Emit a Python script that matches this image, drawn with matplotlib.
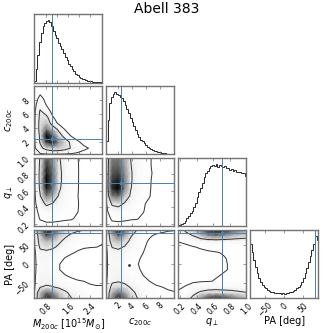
#!/usr/bin/env python
import numpy as np
import matplotlib
matplotlib.use("Agg")
import matplotlib.pyplot as plt
from matplotlib.colors import PowerNorm

plt.rcParams.update({'font.size': 5.5})
plt.rcParams.update({'axes.labelsize': 7})

# parameters
title = "Abell 383"
labels = [r"$M_{200c}$ [$10^{15}M_{\odot}$]", r"$c_{200c}$", r"$q_{\perp}$", "PA [deg]"]
ranges = [(0.35, 2.85), (0.3, 10.0), (0.17, 1.0), (-90.0, 90.0)]
truths = [1.0, 2.5, 0.70, 81.0]
major_ticks = [[0.8, 1.6, 2.4], [2, 4, 6, 8], [0.2, 0.4, 0.6, 0.8, 1.0], [-50, 0, 50]]
minor_ticks = [[1.2, 2.0], [], [], []]

# 1d marginals, 40 equal bins over each range (peak = 100)
hist_M = [3, 22, 44, 65, 80, 90, 96, 99, 100, 97, 90, 83, 77, 71, 63, 58,
          53, 47, 41, 36, 30, 26, 21, 18, 14, 12, 9.5, 8, 6, 5, 4, 3.2,
          2.5, 2, 1.6, 1.2, 1, 0.7, 0.5, 0.3]
hist_c = [22, 55, 82, 92, 97, 100, 97, 96, 93, 90, 86, 80, 73, 66, 59, 52,
          45, 39, 33, 28, 24, 21, 18, 15, 12.5, 10.5, 8.5, 7, 6, 5, 4.2, 3.4,
          2.8, 2.3, 1.9, 1.5, 1.2, 1, 0.8, 0.6]
hist_q = [1.5, 2.5, 4, 6, 9, 13, 17, 21, 25, 31, 38, 47, 55, 62, 70, 80,
          85, 89, 94, 97, 99, 97, 100, 96, 99, 97, 95, 97, 93, 94, 91, 92,
          89, 90, 88, 87, 88, 85, 86, 81]
hist_PA = [88, 74, 61, 50, 41, 33, 27, 22, 19, 16, 14, 12.5, 11, 10, 9, 8.5,
           8, 8.5, 7.5, 8, 7.5, 8, 9, 10, 11, 12, 14, 16, 19, 22, 27, 33,
           40, 49, 58, 68, 78, 88, 100, 94]
hists = [hist_M, hist_c, hist_q, hist_PA]

# 2d densities on regular grids spanning the ranges (rows: top -> bottom)
grid_n = [12, 12, 10, 13]
dens_M_c = [
    [0, 1, 0, 0, 0, 0, 0, 0, 0, 0, 0, 0],
    [0, 5, 2, 0, 0, 0, 0, 0, 0, 0, 0, 0],
    [1, 12, 4, 1, 0, 0, 0, 0, 0, 0, 0, 0],
    [1, 20, 7, 2, 0, 0, 0, 0, 0, 0, 0, 0],
    [0, 38, 15, 3, 1, 0, 0, 0, 0, 0, 0, 0],
    [1, 42, 42, 9, 2, 0, 0, 0, 0, 0, 0, 0],
    [1, 45, 60, 20, 4, 1, 0, 0, 0, 0, 0, 0],
    [2, 45, 80, 58, 28, 7, 1, 0, 0, 0, 0, 0],
    [3, 40, 100, 85, 50, 22, 6, 2, 0, 0, 0, 0],
    [3, 38, 90, 95, 70, 50, 28, 10, 4, 1, 0, 0],
    [2, 28, 45, 55, 52, 45, 33, 20, 11, 7, 2, 0],
    [0, 4, 6, 6, 6, 5, 4, 3, 2, 1, 0, 0],
]
dens_M_q = [
    [2, 38, 85, 70, 38, 22, 12, 8.5, 3, 1, 0, 0],
    [2, 40, 90, 75, 40, 24, 13, 9, 3, 1, 0, 0],
    [2, 42, 95, 80, 42, 25, 14, 9, 3, 1, 0, 0],
    [2, 42, 100, 82, 42, 25, 14, 9, 3, 1, 0, 0],
    [2, 40, 95, 80, 40, 22, 13, 9, 2, 1, 0, 0],
    [1, 34, 75, 62, 32, 18, 11, 8.5, 2, 0, 0, 0],
    [1, 24, 40, 34, 22, 16, 11, 9, 3, 0, 0, 0],
    [0, 14, 22, 20, 16, 13, 10, 8.5, 3, 0, 0, 0],
    [0, 9, 12, 12, 11, 10, 9, 6, 1, 0, 0, 0],
    [0, 2, 3, 3, 2, 1, 1, 0, 0, 0, 0, 0],
]
dens_c_q = [
    [5, 75, 78, 65, 34, 20, 12, 9, 5, 2, 1, 0],
    [5, 80, 82, 68, 36, 22, 13, 9, 5, 2, 1, 0],
    [6, 85, 88, 72, 38, 22, 13, 10, 5, 2, 1, 0],
    [6, 90, 95, 75, 38, 22, 13, 9, 5, 2, 1, 0],
    [6, 92, 100, 74, 36, 20, 12, 9, 4, 2, 1, 0],
    [5, 75, 80, 58, 30, 17, 11, 8.5, 3, 1, 0, 0],
    [4, 40, 45, 32, 20, 13, 9, 6, 2, 1, 0, 0],
    [3, 20, 22, 18, 13, 10, 8.5, 4, 1, 0, 0, 0],
    [2, 10, 11, 10, 9, 8.5, 6, 2, 1, 0, 0, 0],
    [1, 3, 3, 3, 2, 2, 1, 0, 0, 0, 0, 0],
]
dens_M_PA = [
    [5, 70, 100, 90, 70, 55, 45, 40, 36, 32, 20, 12],
    [4, 55, 85, 75, 55, 40, 30, 22, 17, 14, 12, 10],
    [3, 48, 60, 55, 40, 28, 19, 14, 12, 10, 9, 9],
    [3, 40, 45, 40, 30, 18, 12, 10, 9, 8.5, 8.2, 7],
    [2, 26, 28, 24, 15, 11, 9, 7, 5, 4, 3, 3],
    [2, 22, 24, 18, 11, 7.5, 5, 3, 2, 2, 1, 1],
    [2, 20, 22, 16, 8.5, 5, 3, 2, 1, 1, 0, 0],
    [2, 21, 23, 17, 8.5, 5, 3, 2, 1, 1, 0, 0],
    [2, 25, 28, 22, 13, 8.5, 6, 4, 3, 2, 2, 1],
    [3, 26, 28, 26, 18, 14, 11, 9, 8, 6, 5, 5],
    [3, 34, 38, 36, 30, 24, 17, 13, 11, 10, 9, 9],
    [4, 60, 80, 72, 55, 40, 28, 20, 16, 13, 11, 10],
    [5, 65, 95, 88, 65, 48, 36, 28, 22, 16, 12, 10],
]
dens_c_PA = [
    [6, 75, 100, 85, 55, 35, 22, 15, 11, 10, 9, 8.5],
    [5, 60, 80, 65, 38, 22, 13, 9, 7, 6, 5, 5],
    [4, 50, 60, 48, 28, 16, 10, 7, 5, 4, 4, 3],
    [4, 36, 40, 33, 22, 13, 9, 6, 4, 3, 3, 2],
    [3, 26, 28, 22, 16, 11, 8, 5, 3, 2, 2, 1],
    [3, 24, 26, 20, 13, 9, 7, 4, 2, 1, 1, 1],
    [3, 22, 24, 18, 11, 8.5, 6, 3, 2, 1, 1, 0],
    [3, 24, 26, 20, 13, 9, 7, 4, 2, 1, 1, 1],
    [3, 26, 28, 22, 15, 10, 8, 5, 3, 2, 1, 1],
    [4, 30, 33, 28, 18, 12, 10, 8, 6, 4, 3, 2],
    [4, 45, 52, 45, 32, 22, 15, 11, 9, 8, 7, 6],
    [5, 62, 78, 66, 45, 30, 20, 14, 11, 10, 9, 8.5],
    [6, 72, 95, 82, 55, 36, 24, 17, 13, 11, 10, 9],
]
dens_q_PA = [
    [15, 40, 50, 75, 95, 100, 95, 85, 75, 65],
    [12, 25, 36, 55, 70, 75, 70, 62, 55, 50],
    [8.5, 10, 14, 18, 20, 21, 20, 19, 18, 17],
    [3, 6, 7.5, 9, 10, 11, 11, 11, 11, 11],
    [1, 4, 5, 6, 7, 7.5, 8.5, 10, 11, 11],
    [1, 3, 4, 5, 6, 6.5, 7.5, 9, 10, 10],
    [1, 3, 4, 5, 6, 6.5, 7.5, 8.5, 9.5, 10],
    [1, 3, 4, 5, 6, 6.5, 7.5, 8.5, 9.5, 10],
    [1, 4, 5, 6, 7, 7.5, 8.5, 10, 11, 11],
    [2, 4, 6, 7, 7.5, 8.5, 9, 10, 10, 10],
    [5, 9, 14, 18, 20, 21, 20, 20, 19, 18],
    [10, 15, 28, 40, 48, 50, 48, 45, 40, 36],
    [14, 22, 42, 70, 90, 95, 90, 80, 70, 62],
]
dens = {(1, 0): dens_M_c, (2, 0): dens_M_q, (2, 1): dens_c_q,
        (3, 0): dens_M_PA, (3, 1): dens_c_PA, (3, 2): dens_q_PA}
levels = [8, 35]

# stray sample left outside the contours (c, PA)
stray_c = [3.53]
stray_PA = [-3.4]

truth_color = "#4682b4"
frame_color = "0.45"
norm = PowerNorm(gamma=1.9, vmin=0, vmax=100)

fig, axes = plt.subplots(4, 4, figsize=(3.33, 3.33), dpi=100)
fig.subplots_adjust(left=0.102, right=0.956, bottom=0.104, top=0.958,
                    wspace=0.05, hspace=0.05)

for i in range(4):
    for j in range(4):
        ax = axes[i, j]
        if j > i:
            ax.set_axis_off()
            continue
        for sp in ax.spines.values():
            sp.set_color(frame_color)
            sp.set_linewidth(1.0)

        if i == j:
            edges = np.linspace(ranges[i][0], ranges[i][1], len(hists[i]) + 1)
            ax.stairs(hists[i], edges, baseline=0, color='0.15', lw=0.7)
            ax.axvline(truths[i], color=truth_color, lw=0.7)
            ax.set_ylim(0, 1.1 * max(hists[i]))
            ax.set_yticks([])
        else:
            gx = np.linspace(ranges[j][0], ranges[j][1], grid_n[j])
            gy = np.linspace(ranges[i][0], ranges[i][1], grid_n[i])
            z = np.flipud(np.array(dens[(i, j)], dtype=float))
            ax.pcolormesh(gx, gy, z, shading='gouraud', cmap='Greys', norm=norm)
            ax.contour(gx, gy, z, levels=levels, colors='0.2', linewidths=0.7)
            ax.axvline(truths[j], color=truth_color, lw=0.7)
            ax.axhline(truths[i], color=truth_color, lw=0.7)
            ax.plot(truths[j], truths[i], 's', color=truth_color, ms=2)
            if (i, j) == (3, 1):
                ax.plot(stray_c, stray_PA, 'o', color='0.2', ms=1)
            ax.set_ylim(ranges[i])
            ax.set_yticks(major_ticks[i])

        ax.set_xlim(ranges[j])
        ax.set_xticks(major_ticks[j])
        ax.set_xticks(minor_ticks[j], minor=True)
        ax.tick_params(which='both', direction='in', top=True, right=True,
                       length=2, width=0.5, color=frame_color, pad=2)

        if i < 3:
            ax.set_xticklabels([])
        else:
            for l in ax.get_xticklabels():
                l.set_rotation(45)
            ax.set_xlabel(labels[j])
            ax.xaxis.set_label_coords(0.5, -0.26)

        if j > 0 or i == 0:
            ax.set_yticklabels([])
        else:
            for l in ax.get_yticklabels():
                l.set_rotation(45)
            ax.set_ylabel(labels[i])
            ax.yaxis.set_label_coords(-0.27, 0.5)

fig.text(0.5, 0.972, title, ha='center', va='center', fontsize=10)

fig.savefig("out.png", dpi=100)
plt.close('all')
